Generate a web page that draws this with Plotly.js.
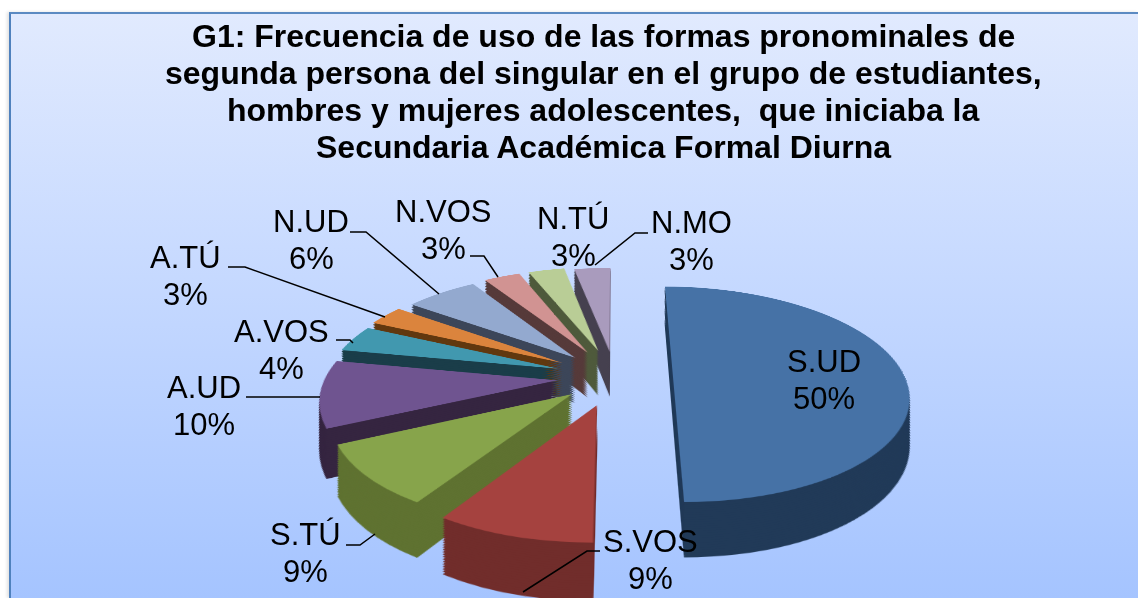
<!DOCTYPE html>
<html><head><meta charset="utf-8">
<script src="https://cdn.plot.ly/plotly-3.0.1.min.js"></script>
<style>
html,body{margin:0;padding:0;background:#fff;overflow:hidden;width:1138px;height:598px}
#frame{position:absolute;left:9px;top:12px;width:1129px;height:586px;box-sizing:border-box;border-left:2px solid #4f81bd;border-top:2px solid #5b8ac2;background:linear-gradient(180deg,#e1eafe 0%,#c9dbff 40%,#a5c4ff 100%);box-shadow:-2px 0 3px rgba(0,0,0,.12);}
#clip{position:absolute;left:0;top:0;width:1138px;height:598px;overflow:hidden;perspective:1287px;perspective-origin:615px 377px}
#pie{position:absolute;left:165px;top:-73px;width:900px;height:900px;transform-origin:450px 450px;transform:rotateX(63.1deg)}
#over{position:absolute;left:0;top:0;width:1138px;height:598px}
</style></head><body>
<div id="frame"></div>
<div id="clip"><div id="pie"></div></div>
<div id="over"></div>
<script>
var categories = ['S.UD','S.VOS','S.TÚ','A.UD','A.VOS','A.TÚ','N.UD','N.VOS','N.TÚ','N.MO'];
var values = [50,9,9,10,4,3,6,3,3,3];
var topColors = ['#4672a6','#a5423f','#87a44b','#6f5490','#4198af','#db843d','#93a9cf','#d19392','#b9cd96','#a99bbd'];
var sideColors = ['#213a58','#712d2b','#5f7231','#352540','#1a3d49','#61380f','#3c4659','#563a3a','#4f5a3c','#464050'];
var pulls = [0.25,0.27,0.24,0.25,0.26,0.27,0.26,0.27,0.27,0.25];
var titleLines = ['G1: Frecuencia de uso de las formas pronominales de','segunda persona del singular en el grupo de estudiantes,','hombres y mujeres adolescentes, \u00a0que iniciaba la','Secundaria Académica Formal Diurna'];
var titleLineY = [36,73,110,147];
var labelCenters = [[824,380],[650,560],[305,553],[204,406],[281,350],[185,276],[311,240],[443,230],[573,237],[691,241]];
var leaders = [
 [[600,551],[587,551],[523,592]],
 [[346,545],[360,545],[375,534]],
 [[246,397],[320,397]],
 [[336,340],[350,340],[353,343]],
 [[228,267],[245,267],[385,317]],
 [[350,232],[366,232],[439,294]],
 [[470,256],[484,256],[498,277]],
 [[648,233],[635,233],[595,265]]
];
var W=1138,H=598,S=900,size=589/900,depth=96,steps=24,shrink=0.000693;
function layer(shift,colors){
  var s=size*(1-shift*shrink), cy=0.5-shift/S;
  return {type:'pie',labels:categories,values:values,sort:false,direction:'clockwise',rotation:0,
    pull:pulls,textinfo:'none',hoverinfo:'skip',showlegend:false,
    marker:{colors:colors,line:{width:0}},
    domain:{x:[0.5-s/2,0.5+s/2],y:[cy-s/2,cy+s/2]}};
}
var traces=[];
for(var i=steps;i>=1;i--){traces.push(layer(depth*i/steps,sideColors));}
traces.push(layer(0,topColors));
Plotly.newPlot('pie',traces,{width:S,height:S,margin:{l:0,r:0,t:0,b:0},paper_bgcolor:'rgba(0,0,0,0)',plot_bgcolor:'rgba(0,0,0,0)',showlegend:false},{staticPlot:true,displayModeBar:false});

var annotations=[];
function addText(t,x,y,size,weight){
  annotations.push({xref:'paper',yref:'paper',x:x/W,y:1-y/H,xanchor:'center',yanchor:'middle',showarrow:false,align:'center',text:t,
    font:{family:'Liberation Sans',size:size,color:'#000',weight:weight}});
}
titleLines.forEach(function(t,i){addText(t,603,titleLineY[i],32,'bold');});
categories.forEach(function(c,i){
  addText(c,labelCenters[i][0],labelCenters[i][1]-18.5,31,'normal');
  addText(values[i]+'%',labelCenters[i][0],labelCenters[i][1]+18.5,31,'normal');
});
var shapes=leaders.map(function(p){
  var d=p.map(function(q,k){return (k?'L':'M')+(q[0]/W)+' '+(1-q[1]/H);}).join(' ');
  return {type:'path',xref:'paper',yref:'paper',path:d,line:{color:'#000',width:1.5},fillcolor:'rgba(0,0,0,0)'};
});
Plotly.newPlot('over',[],{width:W,height:H,margin:{l:0,r:0,t:0,b:0},paper_bgcolor:'rgba(0,0,0,0)',plot_bgcolor:'rgba(0,0,0,0)',
  xaxis:{visible:false},yaxis:{visible:false},showlegend:false,annotations:annotations,shapes:shapes
},{staticPlot:true,displayModeBar:false});
</script>
</body></html>
